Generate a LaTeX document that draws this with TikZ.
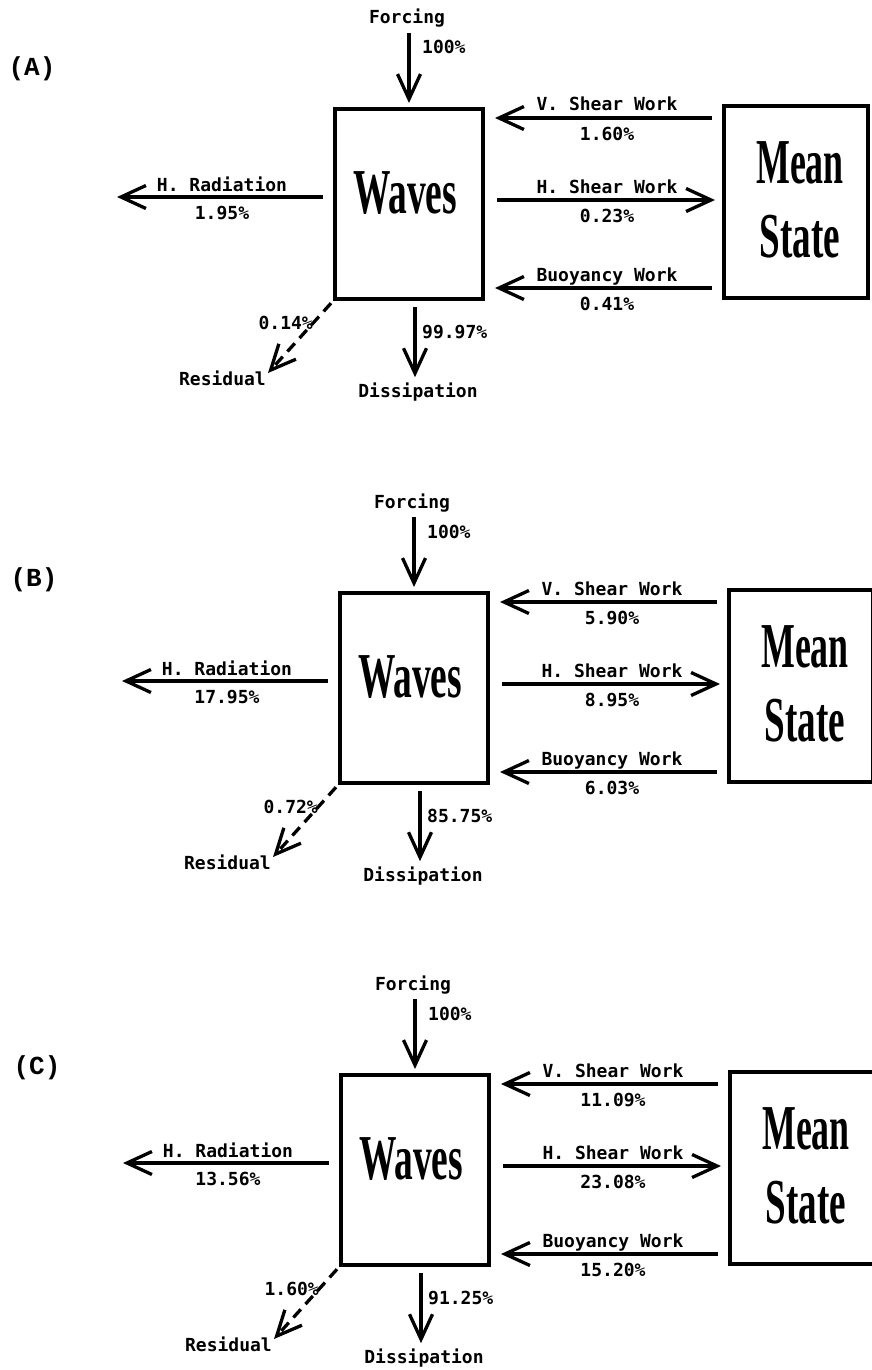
\documentclass[tikz,border=0pt]{standalone}
\usepackage{fontspec}
\usepackage{graphicx}
\usetikzlibrary{arrows.meta,calc}
\newfontfamily\lblfont{DejaVu Sans Mono}
\newfontfamily\bigfont{Liberation Serif}
\newfontfamily\letfont{Liberation Mono}
\tikzset{
  lbl/.style={font=\lblfont\bfseries\fontsize{18}{21}\selectfont, inner sep=0pt, anchor=base},
  big/.style={font=\bigfont\bfseries\fontsize{64}{70}\selectfont, inner sep=0pt, anchor=base},
  plbl/.style={font=\letfont\bfseries\fontsize{26}{28}\selectfont, inner sep=0pt},
  wbox/.style={draw, line width=4pt, minimum width=148pt, minimum height=190pt, inner sep=0pt},
  mbox/.style={draw, line width=4pt, minimum width=144pt, minimum height=192pt, inner sep=0pt},
  arr/.style={line width=3.3pt, -{Straight Barb[length=25pt,width=23pt,line width=3.3pt]}},
  resarr/.style={arr, dash pattern=on 11pt off 7pt},
}
\newcommand\energypanel[9]{%
\begin{scope}[shift={(#1,#2)}]
  \node[wbox] (w#3) at (409,204) {};
  \node[big] (wt#3) at (405,213) {\scalebox{0.585}[1]{Waves}};
  \node[mbox] (m#3) at (796,202) {};
  \node[big] (mt#3) at (800,183) {\scalebox{0.56}[1]{Mean}};
  \node[big] (st#3) at (800,257) {\scalebox{0.58}[1]{State}};
  % forcing
  \node[lbl] (f#3) at (407,24) {Forcing};
  \node[lbl,anchor=base west] (fv#3) at (422,54) {100\%};
  \draw[arr,shorten <=5pt,shorten >=4pt] (f#3.south -| w#3.north) -- (w#3.north);
  % vertical shear work
  \draw[arr,shorten <=10pt,shorten >=10pt] (m#3.west |- 0,118) -- (w#3.east |- 0,118);
  \node[lbl] (vl#3) at (607,111) {V. Shear Work};
  \node[lbl] (vv#3) at (607,140) {#5};
  % horizontal shear work
  \draw[arr,shorten <=12pt,shorten >=7pt] (w#3.east |- 0,200) -- (m#3.west |- 0,200);
  \node[lbl] (hl#3) at (607,193) {H. Shear Work};
  \node[lbl] (hv#3) at (607,222) {#6};
  % buoyancy work
  \draw[arr,shorten <=10pt,shorten >=10pt] (m#3.west |- 0,288) -- (w#3.east |- 0,288);
  \node[lbl] (bl#3) at (607,281) {Buoyancy Work};
  \node[lbl] (bv#3) at (607,310) {#7};
  % horizontal radiation
  \coordinate (hr#3) at (117,197);
  \draw[arr,shorten <=10pt] (w#3.west |- 0,197) -- (hr#3);
  \node[lbl] (rl#3) at (222,191) {H. Radiation};
  \node[lbl] (rv#3) at (222,219) {#4};
  % residual
  \coordinate (rt#3) at (268,373);
  \draw[resarr,shorten <=3pt] (w#3.south west) -- (rt#3);
  \node[lbl,anchor=base east] (r#3) at (266,385) {Residual};
  \node[lbl,anchor=base east] (rs#3) at (313,329) {#8};
  % dissipation
  \node[lbl] (d#3) at (418,397) {Dissipation};
  \draw[arr,shorten <=6pt,shorten >=5pt] ([xshift=6pt]w#3.south) -- ([xshift=6pt]w#3.south |- d#3.north);
  \node[lbl,anchor=base west] (dv#3) at (422,338) {#9};
\end{scope}}
\begin{document}
\begin{tikzpicture}[x=1pt,y=-1pt]
  \useasboundingbox (0,0) rectangle (872,1370);
  \fill[white] (0,0) rectangle (872,1370);
  \node[plbl] (pA) at (32,69) {(A)};
  \node[plbl] (pB) at (34,580) {(B)};
  \node[plbl] (pC) at (37,1068) {(C)};
  \energypanel{0}{0}{A}{1.95\%}{1.60\%}{0.23\%}{0.41\%}{0.14\%}{99.97\%}
  \energypanel{5}{484}{B}{17.95\%}{5.90\%}{8.95\%}{6.03\%}{0.72\%}{85.75\%}
  \energypanel{6}{966}{C}{13.56\%}{11.09\%}{23.08\%}{15.20\%}{1.60\%}{91.25\%}
\end{tikzpicture}
\end{document}
